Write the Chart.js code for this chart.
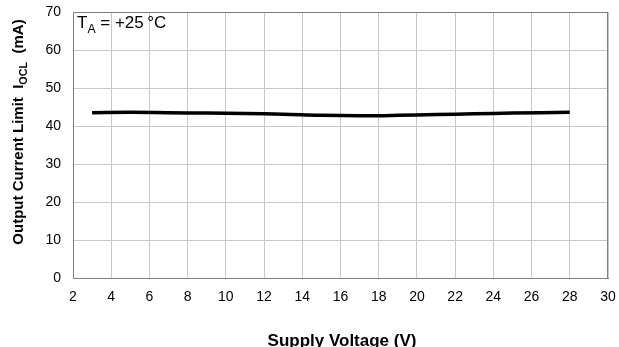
<!DOCTYPE html>
<html>
<head>
<meta charset="utf-8">
<script src="https://cdn.jsdelivr.net/npm/chart.js@4/dist/chart.umd.min.js"></script>
<style>
  html, body { margin: 0; padding: 0; background: #fff; }
  #wrap { width: 619px; height: 347px; }
</style>
</head>
<body>
<div id="wrap"><canvas id="ocl"></canvas></div>
<script>
// supply voltage (V) vs output current limit (mA)
const voltage = [3, 5, 7, 9, 11, 13, 15, 17, 19, 21, 23, 25, 28];
const current = [43.5, 43.6, 43.5, 43.4, 43.3, 43.1, 42.8, 42.7, 42.8, 43.0, 43.2, 43.4, 43.6];
const xTicks = [2, 4, 6, 8, 10, 12, 14, 16, 18, 20, 22, 24, 26, 28, 30];
const yTicks = [0, 10, 20, 30, 40, 50, 60, 70];

const FONT = '"Liberation Sans", Arial, sans-serif';

// draw a run of text pieces, some of them subscripts
function drawRich(ctx, parts, x, y, size, bold, align) {
  const f = (s) => (bold ? 'bold ' : '') + s + 'px ' + FONT;
  let total = 0;
  parts.forEach(p => {
    ctx.font = f(p.sub ? size * 0.72 : size);
    total += ctx.measureText(p.t).width;
  });
  let cx = align === 'center' ? x - total / 2 : x;
  parts.forEach(p => {
    ctx.font = f(p.sub ? size * 0.72 : size);
    ctx.fillText(p.t, cx, p.sub ? y + size * 0.28 : y);
    cx += ctx.measureText(p.t).width;
  });
}

const labels = {
  id: 'labels',
  afterDraw(chart) {
    const ctx = chart.ctx;
    const a = chart.chartArea;
    ctx.save();
    ctx.fillStyle = '#000';
    ctx.textBaseline = 'alphabetic';
    ctx.textAlign = 'left';
    // condition note
    drawRich(ctx, [{ t: 'T' }, { t: 'A', sub: true }, { t: ' = +25\u2009°C' }], a.left + 4, 28, 17, false, 'left');
    // x title
    drawRich(ctx, [{ t: 'Supply Voltage (V)' }], 342, 346, 17, true, 'center');
    // y title
    ctx.translate(23, 132);
    ctx.rotate(-Math.PI / 2);
    drawRich(ctx, [{ t: 'Output Current Limit  I' }, { t: 'OCL', sub: true }, { t: '  (mA)' }], 0, 0, 15, true, 'center');
    ctx.restore();
  }
};

new Chart(document.getElementById('ocl'), {
  type: 'scatter',
  data: {
    datasets: [{
      data: voltage.map((v, i) => ({ x: v, y: current[i] })),
      showLine: true,
      borderColor: '#000',
      borderWidth: 3.5,
      pointRadius: 0,
      tension: 0.4,
      fill: false,
    }],
  },
  options: {
    responsive: true,
    maintainAspectRatio: false,
    animation: false,
    events: [],
    layout: { padding: { left: 0, top: 12, right: 11, bottom: 0 } },
    plugins: { legend: { display: false }, tooltip: { enabled: false } },
    scales: {
      x: {
        type: 'linear',
        min: 2, max: 30,
        afterBuildTicks: (s) => { s.ticks = xTicks.map(v => ({ value: v })); },
        afterFit: (s) => { s.height = 69; s.paddingLeft = 0; s.paddingRight = 0; },
        grid: { color: '#c8c8c8', drawTicks: false },
        border: { color: '#808080', width: 1 },
        ticks: { padding: 11, color: '#000', font: { family: FONT, size: 14 }, maxRotation: 0 },
      },
      y: {
        min: 0, max: 70,
        afterBuildTicks: (s) => { s.ticks = yTicks.map(v => ({ value: v })); },
        afterFit: (s) => { s.width = 73; s.paddingTop = 0; s.paddingBottom = 0; },
        grid: { color: '#c8c8c8', drawTicks: false },
        border: { color: '#808080', width: 1 },
        ticks: { padding: 12, color: '#000', font: { family: FONT, size: 14 } },
      },
    },
  },
  plugins: [labels, {
    id: 'frame',
    afterDraw(chart) {
      const a = chart.chartArea, ctx = chart.ctx;
      ctx.save();
      ctx.strokeStyle = '#808080';
      ctx.lineWidth = 1;
      ctx.strokeRect(a.left + 0.5, a.top + 0.5, a.right - a.left - 1, a.bottom - a.top);
      ctx.restore();
    }
  }],
});
</script>
</body>
</html>
